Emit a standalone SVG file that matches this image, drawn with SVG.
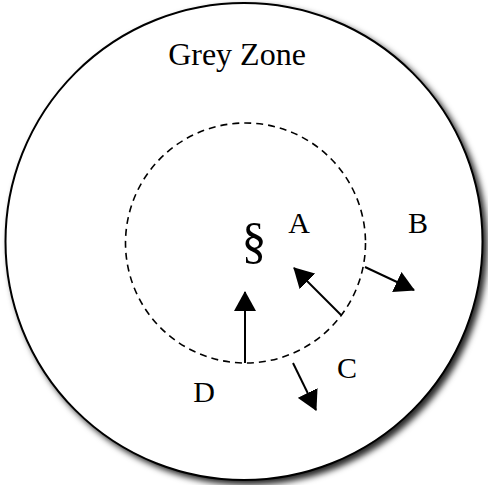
<svg xmlns="http://www.w3.org/2000/svg" width="488" height="485" viewBox="0 0 488 485">
  <defs>
    <filter id="shadow" x="-10%" y="-10%" width="125%" height="125%">
      <feDropShadow dx="4" dy="4" stdDeviation="3" flood-color="#000" flood-opacity="0.85"/>
    </filter>
    <marker id="head" viewBox="0 0 20 22" refX="19" refY="11" markerWidth="20" markerHeight="22" markerUnits="userSpaceOnUse" orient="auto">
      <path d="M0,0 L20,11 L0,22 Z" fill="#000"/>
    </marker>
  </defs>
  <style>
    text { font-family: "Liberation Serif", "Times New Roman", serif; fill: #000; }
    .lbl { font-size: 30px; }
    .conn line { stroke: #000; stroke-width: 2; marker-end: url(#head); }
  </style>
  <rect width="488" height="485" fill="#fff"/>
  <g id="grey-zone">
    <circle cx="244" cy="241.5" r="238.5" fill="#fff" stroke="#000" stroke-width="2" filter="url(#shadow)"/>
    <text x="237" y="65" font-size="32" text-anchor="middle">Grey Zone</text>
  </g>
  <g id="inner-zone">
    <circle cx="245.5" cy="243" r="120" fill="none" stroke="#000" stroke-width="1.6" stroke-dasharray="7,5"/>
    <text x="254" y="258" font-size="50" text-anchor="middle">§</text>
  </g>
  <g id="label-A"><text class="lbl" x="299" y="233" text-anchor="middle">A</text></g>
  <g id="label-B"><text class="lbl" x="418" y="233" text-anchor="middle">B</text></g>
  <g id="label-C"><text class="lbl" x="347" y="378" text-anchor="middle">C</text></g>
  <g id="label-D"><text class="lbl" x="204" y="402" text-anchor="middle">D</text></g>
  <g id="connectors" class="conn">
    <line x1="245" y1="363" x2="245" y2="292"/>
    <line x1="341" y1="315" x2="294" y2="268"/>
    <line x1="365" y1="267" x2="414" y2="290"/>
    <line x1="293" y1="363" x2="316" y2="410"/>
  </g>
</svg>
